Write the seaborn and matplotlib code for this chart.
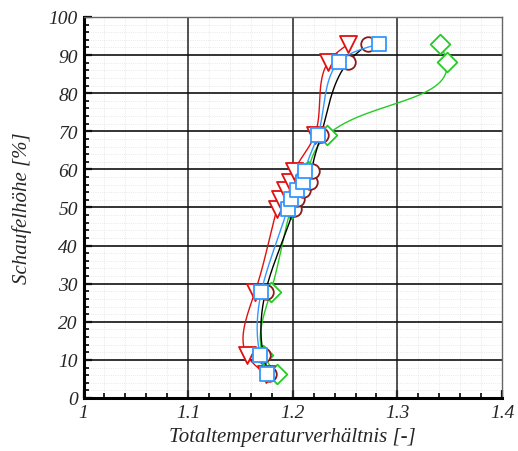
import numpy as np
import pandas as pd
import matplotlib
matplotlib.use("Agg")
import matplotlib.pyplot as plt
import seaborn as sns
from matplotlib.ticker import FixedLocator, FormatStrFormatter

sns.set_theme(style="white")
plt.rcParams['font.family'] = ['Liberation Serif', 'DejaVu Serif']
plt.rcParams['font.style'] = 'italic'
plt.rcParams['mathtext.default'] = 'it'

# Data (blade height in %, total temperature ratio)
h_circle = [6.3, 11.3, 27.9, 49.7, 52.1, 54.5, 56.8, 59.5, 69.0, 88.2, 92.9]
t_circle = [1.177, 1.172, 1.174, 1.201, 1.204, 1.210, 1.216, 1.218, 1.227, 1.253, 1.272]

h_tri = [6.3, 11.3, 27.9, 49.7, 52.1, 54.5, 56.8, 59.5, 69.0, 88.2, 92.9]
t_tri = [1.174, 1.156, 1.164, 1.185, 1.188, 1.193, 1.197, 1.201, 1.221, 1.234, 1.253]

h_sq = [6.3, 11.3, 27.9, 49.7, 52.1, 54.5, 56.8, 59.5, 69.0, 88.2, 92.9]
t_sq = [1.175, 1.169, 1.170, 1.195, 1.198, 1.204, 1.210, 1.212, 1.224, 1.244, 1.2825]

h_dia = [6.3, 11.3, 27.9, 49.7, 52.1, 54.5, 56.8, 59.5, 69.0, 88.2, 92.9]
t_dia = [1.185, 1.172, 1.179, 1.198, 1.201, 1.207, 1.213, 1.215, 1.233, 1.347, 1.341]

x_ticks = [1.0, 1.1, 1.2, 1.3, 1.4]
y_ticks = [0, 10, 20, 30, 40, 50, 60, 70, 80, 90, 100]


def natural_coeffs(s, v):
    m = len(s)
    hs = np.diff(s)
    A = np.zeros((m, m))
    r = np.zeros(m)
    A[0, 0] = 1
    A[-1, -1] = 1
    for i in range(1, m - 1):
        A[i, i - 1] = hs[i - 1]
        A[i, i] = 2 * (hs[i - 1] + hs[i])
        A[i, i + 1] = hs[i]
        r[i] = 6 * ((v[i + 1] - v[i]) / hs[i] - (v[i] - v[i - 1]) / hs[i - 1])
    return np.linalg.solve(A, r)


def eval_spline(s, v, M, t, i):
    h = s[i + 1] - s[i]
    a = (s[i + 1] - t) / h
    b = (t - s[i]) / h
    return a * v[i] + b * v[i + 1] + ((a ** 3 - a) * M[i] + (b ** 3 - b) * M[i + 1]) * h ** 2 / 6


def parametric_spline(xk, yk, n=30):
    """Chord-length parametric natural cubic spline (in display-like scaling)."""
    xk = np.asarray(xk, float)
    yk = np.asarray(yk, float)
    xs_, ys_ = xk * 1046.0, yk * 3.8
    s = np.concatenate([[0], np.cumsum(np.hypot(np.diff(xs_), np.diff(ys_)))])
    Mx = natural_coeffs(s, xk)
    My = natural_coeffs(s, yk)
    outx, outy = [], []
    for i in range(len(s) - 1):
        t = np.linspace(s[i], s[i + 1], n, endpoint=(i == len(s) - 2))
        outx.append(eval_spline(s, xk, Mx, t, i))
        outy.append(eval_spline(s, yk, My, t, i))
    return np.concatenate(outx), np.concatenate(outy)


fig = plt.figure(figsize=(5.18, 4.52), dpi=100)
ax = fig.add_axes([0.1612, 0.1173, 0.8080, 0.8429])

series = [
    (t_dia, h_dia, '#22cc22', '#22cc22', 'D', 100),
    (t_circle, h_circle, 'black', '#8b1a1a', 'o', 110),
    (t_tri, h_tri, '#e01010', '#e01010', 'v', 150),
    (t_sq, h_sq, '#3399ff', '#3399ff', 's', 100),
]

z = 3
for tx, hy, lc, mc, mk, sz in series:
    cx, cy = parametric_spline(tx, hy)
    dfc = pd.DataFrame({'x': cx, 'y': cy})
    sns.lineplot(data=dfc, x='x', y='y', sort=False, estimator=None, ax=ax,
                 color=lc, lw=1.0, zorder=z)
    dfp = pd.DataFrame({'x': tx, 'y': hy})
    sns.scatterplot(data=dfp, x='x', y='y', ax=ax, marker=mk, s=sz,
                    facecolor='white', edgecolor=mc, linewidth=1.3, zorder=z + 1)
    z += 2

ax.set_xlim(1.0, 1.4)
ax.set_ylim(0, 100)
ax.set_xticks(x_ticks)
ax.set_yticks(y_ticks)
ax.xaxis.set_major_formatter(FormatStrFormatter('%g'))
x_minor = [1.0 + 0.02 * i for i in range(21) if i % 5 != 0]
y_minor = [2 * i for i in range(51) if i % 5 != 0]
ax.xaxis.set_minor_locator(FixedLocator(x_minor))
ax.yaxis.set_minor_locator(FixedLocator(y_minor))

# minor dotted grid below, major solid grid lines above it
ax.grid(True, which='minor', color='#e2e2e2', lw=0.6, ls=':')
ax.grid(False, which='major')
ax.set_axisbelow(True)
for xv in x_ticks[1:-1]:
    ax.axvline(xv, color='#333333', lw=1.2, zorder=1)
for yv in y_ticks[1:-1]:
    ax.axhline(yv, color='#111111', lw=1.2, zorder=1)

for s in ['left', 'bottom']:
    ax.spines[s].set_color('black')
    ax.spines[s].set_linewidth(2.2)
for s in ['top', 'right']:
    ax.spines[s].set_color('#666666')
    ax.spines[s].set_linewidth(1.0)

ax.tick_params(axis='both', which='major', direction='in', length=6, width=1.6,
               color='black', labelsize=14, bottom=True, left=True, top=False, right=False,
               pad=4)
ax.tick_params(axis='both', which='minor', direction='in', length=3.5, width=1.2,
               color='black', bottom=True, left=True, top=False, right=False)
for lab in ax.get_xticklabels() + ax.get_yticklabels():
    lab.set_fontstyle('italic')

ax.set_xlabel('Totaltemperaturverhältnis [-]', fontsize=15, style='italic', labelpad=5)
ax.set_ylabel('Schaufelhöhe [%]', fontsize=15, style='italic', labelpad=12)

fig.savefig('out.png', dpi=100)
